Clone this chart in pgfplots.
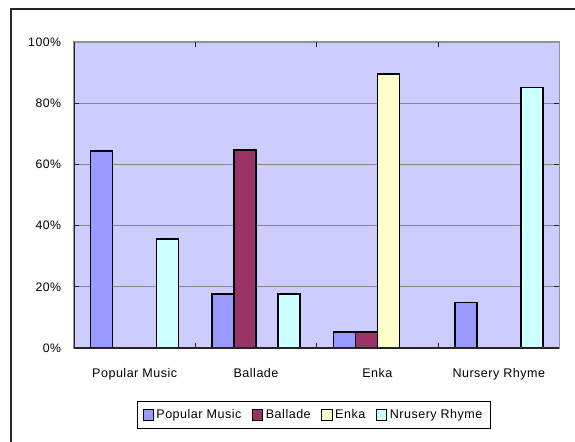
\documentclass[border=0pt]{standalone}
\usepackage{pgfplots}
\pgfplotsset{compat=1.18}
\usepackage{fontspec}
\setmainfont{Liberation Sans}[LetterSpace=4]
\definecolor{pm}{HTML}{9999FF}
\definecolor{bal}{HTML}{993366}
\definecolor{enka}{HTML}{FFFFCC}
\definecolor{nr}{HTML}{CCFFFF}
\definecolor{bg}{HTML}{CCCCFF}
\pgfplotsset{legsq/.style={legend image code/.code={\draw[##1, line width=0.8pt] (0pt,-3.8pt) rectangle (7.6pt,3.8pt);}}}
\begin{document}
\begin{tikzpicture}[x=0.75pt,y=0.75pt]
\useasboundingbox (0,0) rectangle (575,-442);
\draw[black!85, line width=1.1pt] (11,-442) -- (11,-9) -- (575,-9);
\begin{axis}[
  at={(55.5pt,-261pt)}, anchor=south west,
  scale only axis, width=364.1pt, height=229.5pt,
  ymin=0, ymax=100, xmin=-0.5, xmax=3.5,
  ybar=0pt, bar width=16.5pt,
  axis background/.style={fill=bg},
  axis line style={draw=gray!85, line width=0.8pt},
  ymajorgrids, major grid style={gray!95, line width=0.7pt},
  ytick={0,20,...,100},
  yticklabel={\pgfmathprintnumber{\tick}\%},
  yticklabel style={/pgf/number format/assume math mode=true, font=\fontsize{9.2}{10}\selectfont, inner sep=0pt, xshift=-9.5pt},
  tick align=inside, major tick length=3.75pt,
  ytick style={draw=black!85, line width=0.9pt},
  xtick={0,1,2,3},
  xticklabels={Popular Music, Ballade, Enka, Nursery Rhyme},
  xticklabel style={font=\fontsize{9.4}{10}\selectfont, inner sep=0pt, yshift=-15pt},
  xtick style={draw=none},
  extra x ticks={0.5,1.5,2.5},
  extra x tick labels={},
  extra x tick style={grid=none, xtick style={draw=black!85, line width=0.9pt}},
  legend columns=4,
  legend style={at={(0.494,-0.219)}, anchor=center, draw=black, line width=0.6pt,
    font=\fontsize{9.4}{10}\selectfont, inner xsep=4pt, inner ysep=4pt,
    /tikz/every even column/.append style={column sep=6pt}},
  legend cell align=left,
]
\addplot[fill=pm, draw=black, line width=1.2pt, legsq] coordinates {(0,64.29) (1,17.65) (2,5.26) (3,14.81)};
\addplot[fill=bal, draw=black, line width=1.2pt, legsq] coordinates {(1,64.71) (2,5.26)};
\addplot[fill=enka, draw=black, line width=1.2pt, legsq] coordinates {(2,89.47)};
\addplot[fill=nr, draw=black, line width=1.2pt, legsq] coordinates {(0,35.71) (1,17.65) (3,85.19)};
\legend{Popular Music, Ballade, Enka, Nrusery Rhyme}
\draw[black!85, line width=1.1pt] (rel axis cs:0,1) -- (rel axis cs:0,0) -- (rel axis cs:1,0);
\end{axis}
\end{tikzpicture}
\end{document}
